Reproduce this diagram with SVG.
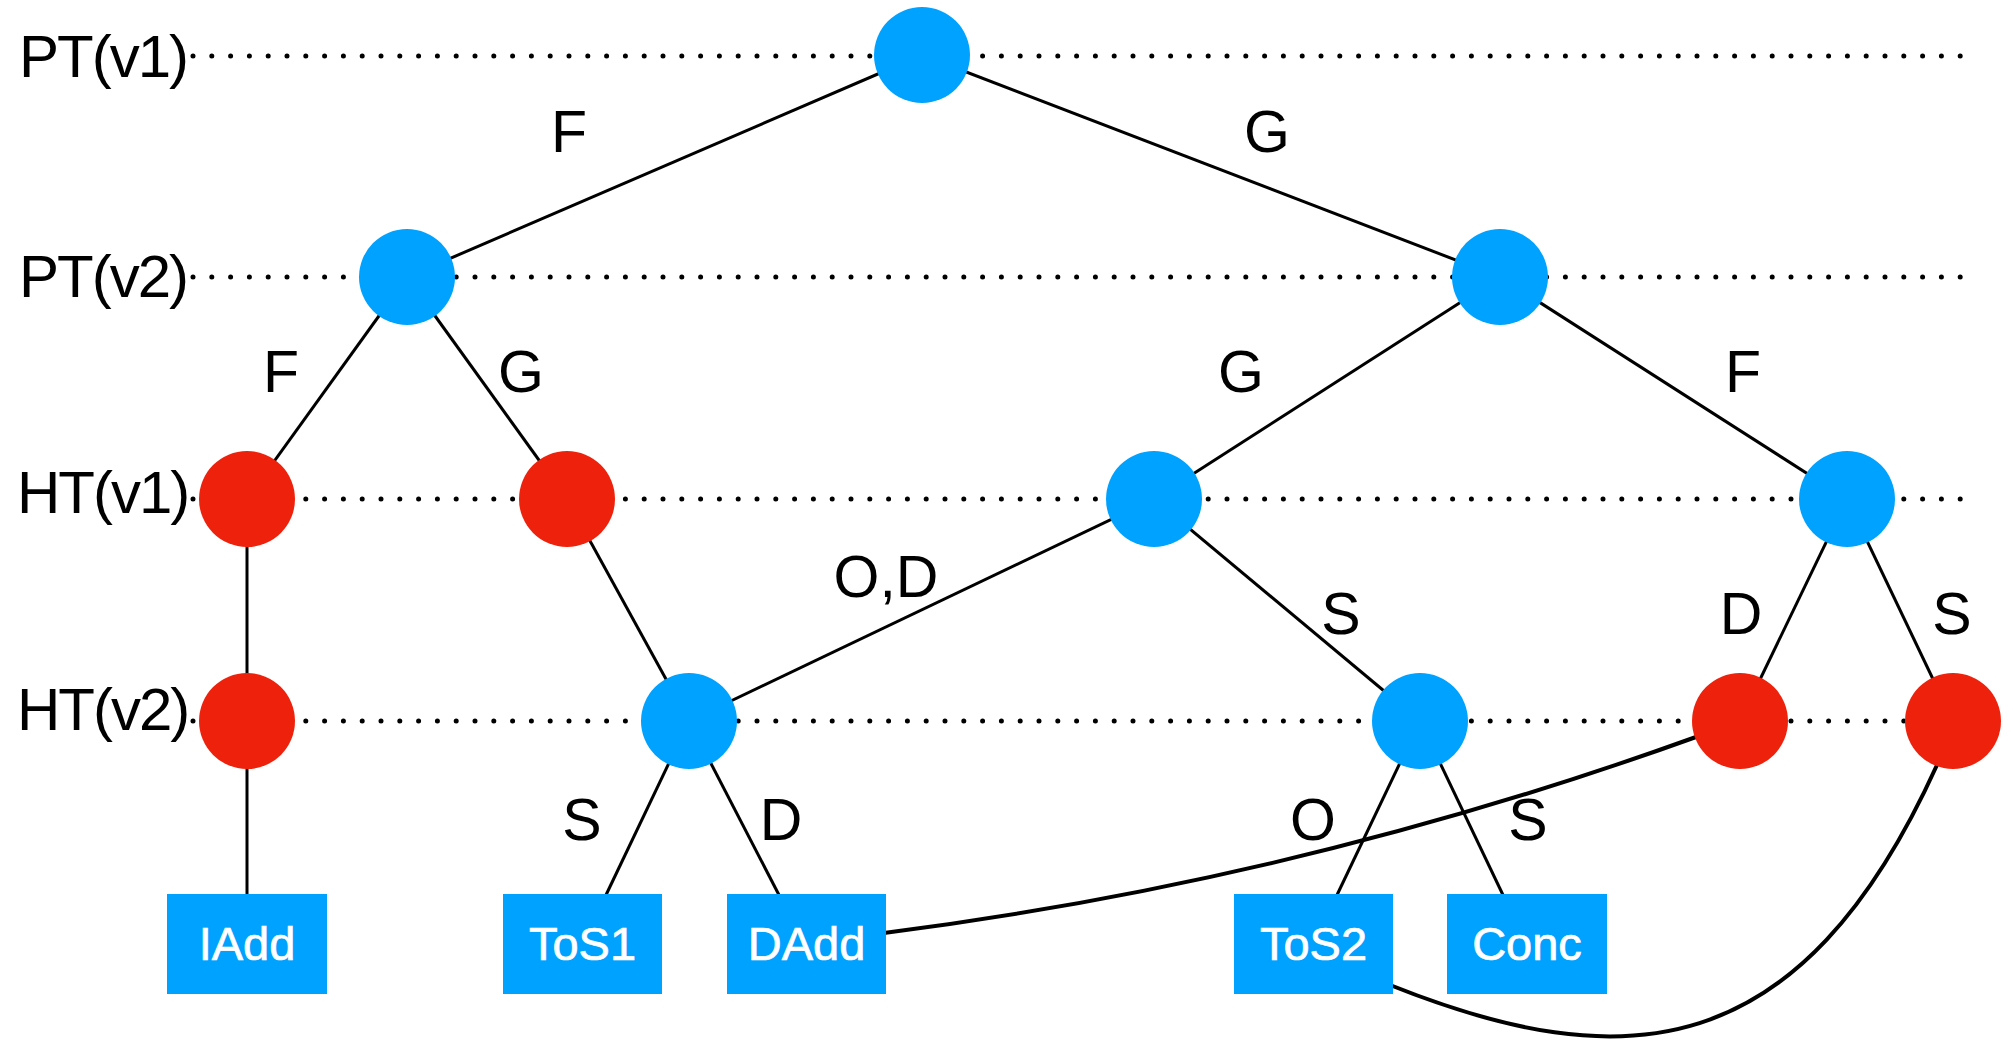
<svg xmlns="http://www.w3.org/2000/svg" width="2013" height="1041" viewBox="0 0 2013 1041">
  <style>
    .row { stroke: #000; stroke-width: 5; stroke-linecap: round; stroke-dasharray: 0 18.8; fill: none; }
    .edge { stroke: #000; stroke-width: 3; fill: none; }
    .arc { stroke: #000; stroke-width: 4; fill: none; }
    .blue { fill: #00A2FF; }
    .red { fill: #EE220C; }
    .box { fill: #00A2FF; }
    .lvl { font-family: "Liberation Sans", Arial, sans-serif; font-size: 60px; letter-spacing: -2px; fill: #000; }
    .lbl { font-family: "Liberation Sans", Arial, sans-serif; font-size: 59px; fill: #000; text-anchor: middle; }
    .op { font-family: "Liberation Sans", Arial, sans-serif; font-size: 47px; fill: #fff; stroke: #fff; stroke-width: 0.7; text-anchor: middle; }
  </style>

  <!-- level guide lines -->
  <g id="levels">
    <line class="row" x1="193" y1="56" x2="1964" y2="56"/>
    <line class="row" x1="193" y1="277" x2="1964" y2="277"/>
    <line class="row" x1="193" y1="499" x2="1964" y2="499"/>
    <line class="row" x1="193" y1="721" x2="1953" y2="721"/>
    <text class="lvl" x="19" y="77">PT(v1)</text>
    <text class="lvl" x="19" y="297">PT(v2)</text>
    <text class="lvl" x="17" y="513">HT(v1)</text>
    <text class="lvl" x="17" y="730">HT(v2)</text>
  </g>

  <!-- connectors -->
  <g id="connectors">
    <line class="edge" x1="922" y1="55" x2="407" y2="277"/>
    <line class="edge" x1="922" y1="55" x2="1500" y2="277"/>
    <line class="edge" x1="407" y1="277" x2="247" y2="499"/>
    <line class="edge" x1="407" y1="277" x2="567" y2="499"/>
    <line class="edge" x1="1500" y1="277" x2="1154" y2="499"/>
    <line class="edge" x1="1500" y1="277" x2="1847" y2="499"/>
    <line class="edge" x1="247" y1="499" x2="247" y2="721"/>
    <line class="edge" x1="247" y1="721" x2="247" y2="895"/>
    <line class="edge" x1="567" y1="499" x2="689" y2="721"/>
    <line class="edge" x1="1154" y1="499" x2="689" y2="721"/>
    <line class="edge" x1="1154" y1="499" x2="1420" y2="721"/>
    <line class="edge" x1="1847" y1="499" x2="1740" y2="721"/>
    <line class="edge" x1="1847" y1="499" x2="1953" y2="721"/>
    <line class="edge" x1="689" y1="721" x2="606" y2="895"/>
    <line class="edge" x1="689" y1="721" x2="779" y2="895"/>
    <line class="edge" x1="1420" y1="721" x2="1337" y2="895"/>
    <line class="edge" x1="1420" y1="721" x2="1503" y2="895"/>
    <path class="arc" d="M 884 933 Q 1300 880 1696 737"/>
    <path class="arc" d="M 1390 985 C 1623 1078 1800 1067 1937 765"/>

    <text class="lbl" x="569" y="152">F</text>
    <text class="lbl" x="1267" y="152">G</text>
    <text class="lbl" x="281" y="392">F</text>
    <text class="lbl" x="521" y="392">G</text>
    <text class="lbl" x="1241" y="392">G</text>
    <text class="lbl" x="1743" y="392">F</text>
    <text class="lbl" x="886" y="597">O,D</text>
    <text class="lbl" x="1341" y="634">S</text>
    <text class="lbl" x="1741" y="634">D</text>
    <text class="lbl" x="1952" y="634">S</text>
    <text class="lbl" x="582" y="840">S</text>
    <text class="lbl" x="781" y="840">D</text>
    <text class="lbl" x="1313" y="840">O</text>
    <text class="lbl" x="1528" y="840">S</text>
  </g>

  <!-- tree nodes -->
  <g id="pt-v1-root"><circle class="blue" cx="922" cy="55" r="48"/></g>
  <g id="pt-v2-f"><circle class="blue" cx="407" cy="277" r="48"/></g>
  <g id="pt-v2-g"><circle class="blue" cx="1500" cy="277" r="48"/></g>
  <g id="ht-v1-ff"><circle class="red" cx="247" cy="499" r="48"/></g>
  <g id="ht-v1-fg"><circle class="red" cx="567" cy="499" r="48"/></g>
  <g id="ht-v1-gg"><circle class="blue" cx="1154" cy="499" r="48"/></g>
  <g id="ht-v1-gf"><circle class="blue" cx="1847" cy="499" r="48"/></g>
  <g id="ht-v2-a"><circle class="red" cx="247" cy="721" r="48"/></g>
  <g id="ht-v2-b"><circle class="blue" cx="689" cy="721" r="48"/></g>
  <g id="ht-v2-c"><circle class="blue" cx="1420" cy="721" r="48"/></g>
  <g id="ht-v2-d"><circle class="red" cx="1740" cy="721" r="48"/></g>
  <g id="ht-v2-e"><circle class="red" cx="1953" cy="721" r="48"/></g>

  <!-- operation boxes -->
  <g id="op-iadd"><rect class="box" x="167" y="894" width="160" height="100"/><text class="op" x="247" y="960">IAdd</text></g>
  <g id="op-tos1"><rect class="box" x="503" y="894" width="159" height="100"/><text class="op" x="582.5" y="960">ToS1</text></g>
  <g id="op-dadd"><rect class="box" x="727" y="894" width="159" height="100"/><text class="op" x="806.5" y="960">DAdd</text></g>
  <g id="op-tos2"><rect class="box" x="1234" y="894" width="159" height="100"/><text class="op" x="1313.5" y="960">ToS2</text></g>
  <g id="op-conc"><rect class="box" x="1447" y="894" width="160" height="100"/><text class="op" x="1527" y="960">Conc</text></g>
</svg>
